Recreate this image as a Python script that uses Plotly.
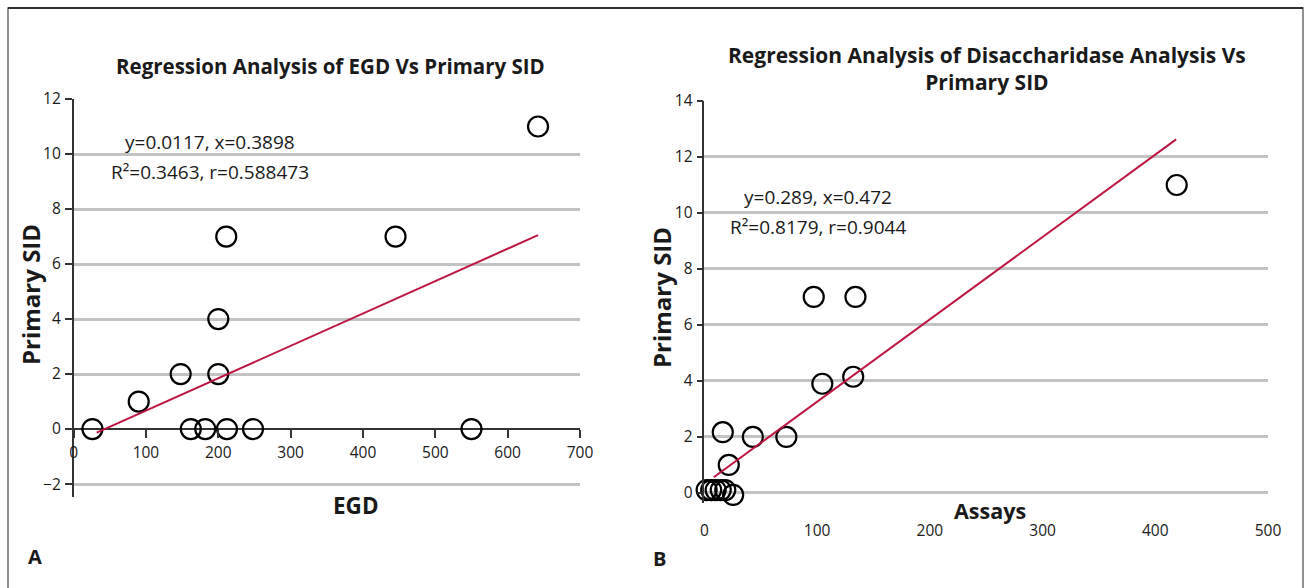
import plotly.graph_objects as go

W, H = 1309, 588

# ---------------- Data ----------------
# Panel A: EGD vs Primary SID
egd_x = [26, 90, 148, 162, 182, 200, 200, 211, 212, 248, 445, 550, 642]
egd_y = [0, 1, 2, 0, 0, 2, 4, 7, 0, 0, 7, 0, 11]
egd_fit_x = [32, 642]
egd_fit_y = [-0.13, 7.05]
egd_xticks = [0, 100, 200, 300, 400, 500, 600, 700]
egd_yticks = [-2, 0, 2, 4, 6, 8, 10, 12]

# Panel B: Disaccharidase assays vs Primary SID
assay_x = [2, 6, 10, 14.5, 18.5, 25.5, 21.6, 16.3, 43, 72.7, 104.6, 132, 97, 134, 419]
assay_y = [0.1, 0.1, 0.1, 0.1, 0.1, -0.07, 1.0, 2.17, 2.0, 2.0, 3.9, 4.15, 7.0, 7.0, 11.0]
assay_fit_x = [8.3, 418.5]
assay_fit_y = [0.56, 12.63]
assay_xticks = [0, 100, 200, 300, 400, 500]
assay_yticks = [0, 2, 4, 6, 8, 10, 12, 14]

title_a = "Regression Analysis of EGD Vs Primary SID"
title_b = "Regression Analysis of Disaccharidase Analysis Vs<br>Primary SID"
eq_a = ["y=0.0117, x=0.3898", "R²=0.3463, r=0.588473"]
eq_b = ["y=0.289, x=0.472", "R²=0.8179, r=0.9044"]

# ---------------- Styling ----------------
FONT = "Open Sans, Noto Sans, sans-serif"
TXT = "#1a1a1a"
GRID = "#c3c3c3"
AXC = "#333333"
FITC = "#bd1642"


def px_x(p):
    return p / W


def px_y(p):
    return 1 - p / H


# panel A geometry
a_xdom = [px_x(73.6), px_x(580)]
a_ydom = [px_y(497), px_y(99)]
a_yr = [-2.47, 12]
a_xpos = a_ydom[0] + (0 - a_yr[0]) / (a_yr[1] - a_yr[0]) * (a_ydom[1] - a_ydom[0])

# panel B geometry
b_xdom = [px_x(704.4), px_x(1268)]
b_ydom = [px_y(503), px_y(101)]
b_yr = [-0.36, 14]

marker = dict(symbol="circle-open", size=20, color="black", line=dict(width=2.2, color="black"))

fig = go.Figure()
fig.add_trace(go.Scatter(x=egd_x, y=egd_y, mode="markers", marker=marker,
                         xaxis="x", yaxis="y", showlegend=False, cliponaxis=False))
fig.add_trace(go.Scatter(x=egd_fit_x, y=egd_fit_y, mode="lines",
                         line=dict(color=FITC, width=2), xaxis="x", yaxis="y", showlegend=False))
fig.add_trace(go.Scatter(x=assay_x, y=assay_y, mode="markers", marker=marker,
                         xaxis="x2", yaxis="y2", showlegend=False, cliponaxis=False))
fig.add_trace(go.Scatter(x=assay_fit_x, y=assay_fit_y, mode="lines",
                         line=dict(color=FITC, width=2), xaxis="x2", yaxis="y2", showlegend=False))

tickfont = dict(family=FONT, size=15.5, color=TXT)

fig.update_layout(
    width=W, height=H, autosize=False,
    margin=dict(l=0, r=0, t=0, b=0, pad=0),
    paper_bgcolor="white", plot_bgcolor="rgba(0,0,0,0)",
    font=dict(family=FONT, color=TXT),
    xaxis=dict(domain=a_xdom, range=[0, 700], anchor="free", position=a_xpos,
               automargin=False,
               tickvals=egd_xticks, showgrid=False, zeroline=False, showline=False,
               ticks="outside", ticklen=8, tickwidth=1.5, tickcolor=AXC,
               tickfont=tickfont, ticklabelstandoff=1),
    yaxis=dict(domain=a_ydom, range=a_yr, anchor="x", tickvals=egd_yticks,
               automargin=False,
               showgrid=True, gridcolor=GRID, gridwidth=3,
               zeroline=True, zerolinecolor=AXC, zerolinewidth=1.5,
               showline=True, linecolor=AXC, linewidth=1.5,
               ticks="outside", ticklen=7, tickwidth=1.5, tickcolor=AXC,
               tickfont=tickfont, ticklabelstandoff=1),
    xaxis2=dict(domain=b_xdom, range=[0, 500], anchor="free", position=px_y(519),
                automargin=False,
                tickvals=assay_xticks, showgrid=False, zeroline=False, showline=False,
                ticks="", tickfont=tickfont),
    yaxis2=dict(domain=b_ydom, range=b_yr, anchor="x2", tickvals=assay_yticks,
                automargin=False,
                showgrid=True, gridcolor=GRID, gridwidth=3, zeroline=False,
                showline=True, linecolor=AXC, linewidth=1.5,
                ticks="outside", ticklen=6, tickwidth=1.5, tickcolor=AXC,
                tickfont=tickfont, ticklabelstandoff=1),
)

ann = []


def text(x, y, s, size, bold=False, angle=0, xanchor="center"):
    ann.append(dict(x=px_x(x), y=px_y(y), xref="paper", yref="paper", text=s,
                    showarrow=False, xanchor=xanchor, yanchor="middle", textangle=angle,
                    font=dict(family=FONT, size=size, color=TXT,
                              weight="bold" if bold else "normal")))


# titles
text(330, 66, title_a, 20.5, bold=True)
ann.append(dict(x=px_x(987), y=px_y(68), xref="paper", yref="paper", text=title_b,
                showarrow=False, xanchor="center", yanchor="middle",
                font=dict(family=FONT, size=21, color=TXT, weight="bold")))
# axis titles
text(31, 295, "Primary SID", 24, bold=True, angle=-90)
text(661, 298, "Primary SID", 24, bold=True, angle=-90)
text(356, 505, "EGD", 22.5, bold=True)
text(990, 510, "Assays", 21.5, bold=True)
# regression equations
text(210, 142, eq_a[0], 19)
text(210, 172, eq_a[1], 19)
text(818, 197, eq_b[0], 19)
text(818, 227, eq_b[1], 19)
# panel letters
text(35, 556, "A", 20, bold=True)
text(659, 558, "B", 20, bold=True)

fig.update_layout(annotations=ann)

# outer frame
fig.add_shape(type="rect", xref="paper", yref="paper",
              x0=px_x(8), x1=px_x(1303), y0=-0.05, y1=px_y(8),
              line=dict(color="#6e6e6e", width=1.5), layer="below")
fig.add_shape(type="line", xref="paper", yref="paper",
              x0=px_x(8), x1=px_x(1303), y0=px_y(8), y1=px_y(8),
              line=dict(color="#111111", width=1.5), layer="below")

post = (
    "document.documentElement.style.margin='0';document.documentElement.style.padding='0';"
    "document.documentElement.style.overflow='hidden';"
    "document.body.style.margin='0';document.body.style.padding='0';"
    "document.body.style.overflow='hidden';"
)

fig.write_html(
    "out.html",
    config={"displayModeBar": False},
    post_script=post,
)
